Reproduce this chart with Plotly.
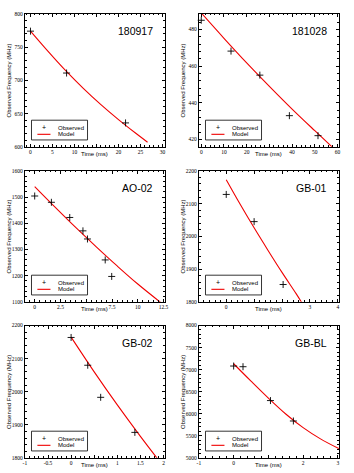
import plotly.graph_objects as go

W, H = 354, 473

# ---------------- data ----------------
names = ["180917", "181028", "AO-02", "GB-01", "GB-02", "GB-BL"]

t_obs_180917 = [0, 8.2, 21.6]
f_obs_180917 = [774, 711, 636]
t_mod_180917 = [0, 4, 8, 12, 16, 20, 24, 26.6]
f_mod_180917 = [774, 743.5, 714.5, 688, 663.5, 641, 620, 607]

t_obs_181028 = [0, 13.1, 25.8, 38.8, 51.4]
f_obs_181028 = [485, 468.2, 455.1, 433.0, 422.1]
t_mod_181028 = [0, 10, 20, 30, 40, 50, 58]
f_mod_181028 = [489, 475.2, 461.8, 449, 436.6, 424.8, 415.5]

t_obs_ao02 = [0, 1.62, 3.40, 4.68, 5.12, 6.84, 7.47]
f_obs_ao02 = [1504, 1480, 1422, 1371, 1340, 1260, 1197]
t_mod_ao02 = [0, 2, 4, 6, 8, 10, 12.4]
f_mod_ao02 = [1540, 1460.5, 1383, 1309, 1237, 1168, 1092]

t_obs_gb01 = [0, 1.0, 2.04]
f_obs_gb01 = [2128, 2045, 1853]
t_mod_gb01 = [0, 0.5, 1, 1.5, 2, 2.5, 2.7]
f_mod_gb01 = [2173, 2098, 2026, 1957, 1890, 1826, 1799]

t_obs_gb02 = [0, 0.36, 0.64, 1.38]
f_obs_gb02 = [2164, 2080, 1983, 1877]
t_mod_gb02 = [0, 0.5, 1, 1.5, 1.9]
f_mod_gb02 = [2165, 2060, 1960, 1865, 1792]

t_obs_gbbl = [0, 0.27, 1.06, 1.72]
f_obs_gbbl = [7082, 7067, 6299, 5836]
t_mod_gbbl = [0, 0.5, 1, 1.5, 2, 2.5, 3.05]
f_mod_gbbl = [7134, 6740, 6355, 5995, 5685, 5430, 5200]

x_ticks = [
    [0, 5, 10, 15, 20, 25, 30],
    [0, 10, 20, 30, 40, 50, 60],
    [0, 2.5, 5, 7.5, 10, 12.5],
    [-1, 0, 1, 2, 3, 4],
    [-1, -0.5, 0, 0.5, 1, 1.5, 2],
    [-1, 0, 1, 2, 3],
]
# tick labels printed under each x axis ("" where the axis title covers it)
x_ticktext = [
    ["0", "5", "10", "", "20", "25", "30"],
    ["0", "10", "20", "", "40", "50", "60"],
    ["0", "2.5", "", "7.5", "10", "12.5"],
    ["-1", "0", "", "", "3", "4"],
    ["-1", "-0.5", "0", "", "1", "1.5", "2"],
    ["-1", "0", "", "2", "3"],
]
y_ticks = [
    [600, 650, 700, 750, 800],
    [420, 440, 460, 480],
    [1100, 1200, 1300, 1400, 1500, 1600],
    [1800, 1900, 2000, 2100, 2200],
    [1800, 1900, 2000, 2100, 2200],
    [5000, 5500, 6000, 6500, 7000, 7500, 8000],
]

obs = [
    (t_obs_180917, f_obs_180917), (t_obs_181028, f_obs_181028),
    (t_obs_ao02, f_obs_ao02), (t_obs_gb01, f_obs_gb01),
    (t_obs_gb02, f_obs_gb02), (t_obs_gbbl, f_obs_gbbl),
]
mod = [
    (t_mod_180917, f_mod_180917), (t_mod_181028, f_mod_181028),
    (t_mod_ao02, f_mod_ao02), (t_mod_gb01, f_mod_gb01),
    (t_mod_gb02, f_mod_gb02), (t_mod_gbbl, f_mod_gbbl),
]

# ---------------- layout geometry ----------------
x_ranges = [[-1.27, 30.54], [-1.04, 60.6], [-0.95, 12.63],
            [-0.98, 4.04], [-1.0, 2.03], [-1.0, 3.03]]
y_ranges = [[600, 800], [416, 488.5], [1100, 1600],
            [1800, 2200], [1800, 2200], [5000, 8000]]

cols_px = [(23.3, 165.7), (200.3, 342.7)]
rows_px = [(11, 145.7), (170, 302.7), (326.7, 460.7)]

RED = "#f00000"

fig = go.Figure()
shapes = []
annotations = []

tickfont = dict(family="Liberation Serif", size=5.5, color="black")

for i in range(6):
    r, c = divmod(i, 2)
    l, rt = cols_px[c]
    top, bot = rows_px[r]
    xa = "x" if i == 0 else f"x{i+1}"
    ya = "y" if i == 0 else f"y{i+1}"
    xdx = (x_ticks[i][1] - x_ticks[i][0])
    ydy = (y_ticks[i][1] - y_ticks[i][0])

    fig.add_trace(go.Scatter(
        x=mod[i][0], y=mod[i][1], mode="lines", name="Model",
        line=dict(color=RED, width=1.1, shape="spline"),
        xaxis=xa, yaxis=ya, showlegend=False, cliponaxis=True))
    fig.add_trace(go.Scatter(
        x=obs[i][0], y=obs[i][1], mode="markers", name="Observed",
        marker=dict(symbol="cross-thin", size=5,
                    line=dict(color="black", width=0.9)),
        xaxis=xa, yaxis=ya, showlegend=False, cliponaxis=False))

    axcommon = dict(showline=True, linecolor="black", linewidth=1,
                    mirror="allticks", ticks="inside", ticklen=3,
                    tickcolor="black", tickwidth=0.8,
                    showgrid=False, zeroline=False, tickfont=tickfont,
                    fixedrange=True)
    fig.layout[("xaxis" if i == 0 else f"xaxis{i+1}")] = dict(
        domain=[l / W, rt / W], range=x_ranges[i], anchor=ya,
        tickvals=x_ticks[i], ticktext=x_ticktext[i],
        minor=dict(ticks="inside", ticklen=1.6, dtick=xdx / 5,
                   tickcolor="black", tickwidth=0.6),
        **axcommon)
    fig.layout[("yaxis" if i == 0 else f"yaxis{i+1}")] = dict(
        domain=[1 - bot / H, 1 - top / H], range=y_ranges[i], anchor=xa,
        tickvals=y_ticks[i], ticktext=[f"{v:g}" for v in y_ticks[i]],
        minor=dict(ticks="inside", ticklen=1.6, dtick=ydy / 5,
                   tickcolor="black", tickwidth=0.6),
        **axcommon)

    # panel name
    annotations.append(dict(
        text=names[i], xref="paper", yref="paper",
        x=(rt - 10.5) / W, y=1 - (top + 17.5) / H,
        xanchor="right", yanchor="middle", showarrow=False,
        font=dict(family="Liberation Sans", size=10.5, color="black")))
    # x title
    annotations.append(dict(
        text="Time (ms)", xref="paper", yref="paper",
        x=(l + rt) / 2 / W, y=1 - (bot + 7.0) / H,
        xanchor="center", yanchor="middle", showarrow=False,
        font=dict(family="Liberation Sans", size=6, color="black")))
    # y title
    annotations.append(dict(
        text="Observed Frequency (MHz)", xref="paper", yref="paper",
        x=(l - 16) / W, y=1 - (top + bot) / 2 / H, textangle=-90,
        xanchor="center", yanchor="middle", showarrow=False,
        font=dict(family="Liberation Sans", size=6, color="black")))

    # legend box
    lx0, lx1 = l + 6.7, l + 63.7
    ly0, ly1 = bot - 27, bot - 7
    shapes.append(dict(type="rect", xref="paper", yref="paper",
                       x0=lx0 / W, x1=lx1 / W, y0=1 - ly1 / H, y1=1 - ly0 / H,
                       line=dict(color="black", width=0.8), fillcolor="white",
                       layer="above"))
    shapes.append(dict(type="line", xref="paper", yref="paper",
                       x0=(lx0 + 6) / W, x1=(lx0 + 19.3) / W,
                       y0=1 - (ly0 + 14.3) / H, y1=1 - (ly0 + 14.3) / H,
                       line=dict(color=RED, width=1.1), layer="above"))
    annotations.append(dict(
        text="+", xref="paper", yref="paper",
        x=(lx0 + 12.7) / W, y=1 - (ly0 + 7.5) / H,
        xanchor="center", yanchor="middle", showarrow=False,
        font=dict(family="Liberation Sans", size=7, color="black")))
    annotations.append(dict(
        text="Observed", xref="paper", yref="paper",
        x=(lx0 + 25) / W, y=1 - (ly0 + 7.7) / H,
        xanchor="left", yanchor="middle", showarrow=False,
        font=dict(family="Liberation Sans", size=6, color="black")))
    annotations.append(dict(
        text="Model", xref="paper", yref="paper",
        x=(lx0 + 25) / W, y=1 - (ly0 + 14.3) / H,
        xanchor="left", yanchor="middle", showarrow=False,
        font=dict(family="Liberation Sans", size=6, color="black")))

fig.update_layout(
    width=W, height=H, autosize=False,
    margin=dict(l=0, r=0, t=0, b=0, pad=0),
    paper_bgcolor="white", plot_bgcolor="white",
    shapes=shapes, annotations=annotations, showlegend=False,
)

fig.write_html(
    "out.html",
    config={"displayModeBar": False},
    post_script="document.body.style.margin='0';document.body.style.overflow='hidden';",
)
